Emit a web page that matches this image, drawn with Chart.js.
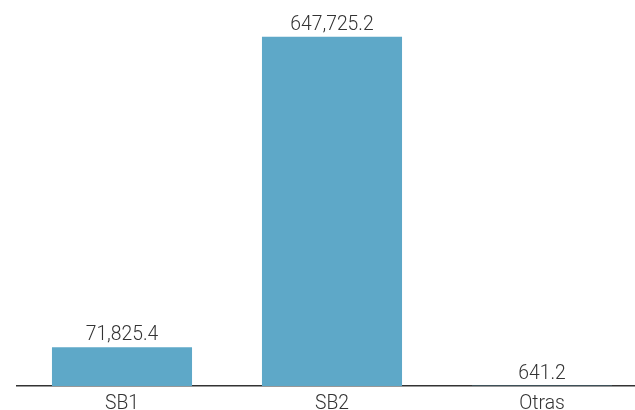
<!DOCTYPE html>
<html>
<head>
<meta charset="utf-8">
<script src="https://cdn.jsdelivr.net/npm/chart.js@4"></script>
<style>
  html, body { margin: 0; padding: 0; background: #fff; overflow: hidden; }
  #wrap { position: relative; width: 647px; height: 410px; }
</style>
</head>
<body>
<div id="wrap"><canvas id="chart"></canvas></div>
<script>
const categories = ["SB1", "SB2", "Otras"];
const values = [71825.4, 647725.2, 641.2];

// texto estrecho: Roboto Light comprimido en horizontal
function drawNarrow(ctx, txt, x, y) {
    ctx.save();
    ctx.translate(x, y);
    ctx.scale(0.92, 1);
    ctx.fillText(txt, 0, 0);
    ctx.restore();
}

// valores encima de las barras y nombres debajo del eje
const barLabels = {
    id: "barLabels",
    afterDatasetsDraw(chart) {
        const ctx = chart.ctx;
        const meta = chart.getDatasetMeta(0);
        const bottom = chart.chartArea.bottom;
        ctx.save();
        ctx.font = "300 21px Roboto";
        ctx.fillStyle = "#333";
        ctx.textAlign = "center";
        ctx.textBaseline = "alphabetic";
        meta.data.forEach((bar, i) => {
            const txt = values[i].toLocaleString("en-US", { minimumFractionDigits: 1, maximumFractionDigits: 1 });
            drawNarrow(ctx, txt, bar.x, bar.y - 7);
            drawNarrow(ctx, categories[i], bar.x, bottom + 23);
        });
        ctx.restore();
    }
};

new Chart(document.getElementById("chart"), {
    type: "bar",
    data: {
        labels: categories,
        datasets: [{
            data: values,
            backgroundColor: "#5ea8c8",
            categoryPercentage: 1,
            barPercentage: 0.667
        }]
    },
    options: {
        responsive: true,
        maintainAspectRatio: false,
        animation: false,
        layout: { padding: { left: 17, top: 0, right: 0, bottom: 16 } },
        plugins: { legend: { display: false }, tooltip: { enabled: false } },
        scales: {
            x: {
                grid: { display: false },
                border: { display: true, color: "#333", width: 1.5 },
                ticks: { display: false }
            },
            y: {
                display: false,
                min: 0,
                max: 716000
            }
        }
    },
    plugins: [barLabels]
});
</script>
</body>
</html>
